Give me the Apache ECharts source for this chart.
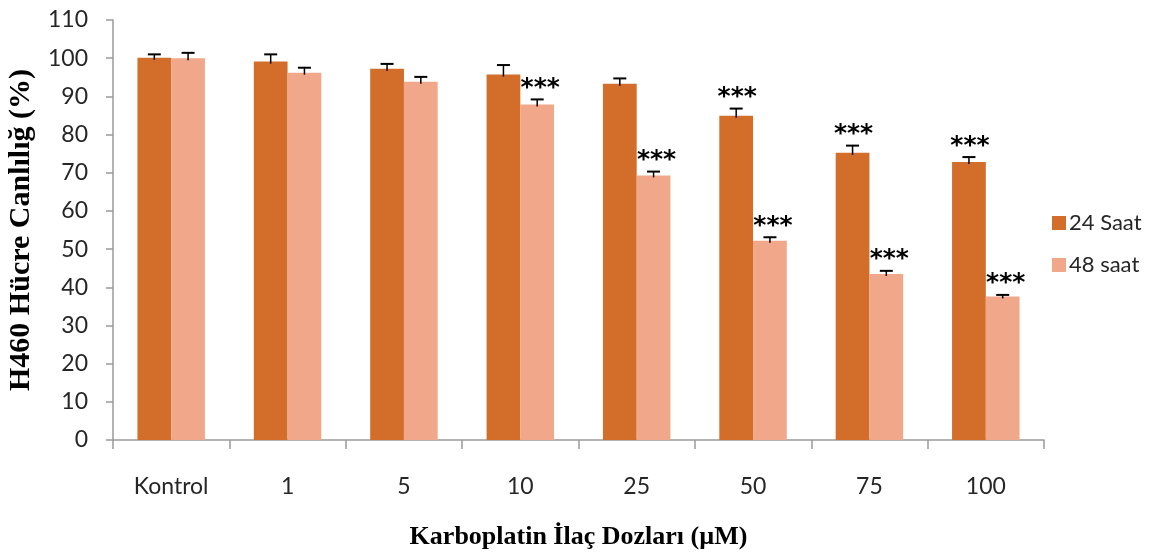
<!DOCTYPE html>
<html>
<head>
<meta charset="utf-8">
<script src="https://cdn.jsdelivr.net/npm/echarts@6/dist/echarts.min.js"></script>
<style>html,body{margin:0;padding:0;background:#fff}#c{width:1156px;height:557px}</style>
</head>
<body>
<div id="c"></div>
<script>
const categories = ['Kontrol', '1', '5', '10', '25', '50', '75', '100'];
const saat24 = [100.1, 99.1, 97.2, 95.7, 93.3, 84.9, 75.2, 72.8];
const saat48 = [100.0, 96.2, 93.8, 87.9, 69.3, 52.2, 43.5, 37.6];
const err24 = [0.9, 1.9, 1.3, 2.5, 1.4, 1.9, 1.9, 1.3];
const err48 = [1.4, 1.3, 1.3, 1.3, 1.0, 0.9, 0.8, 0.4];
const sig24 = ['', '', '', '', '', '***', '***', '***'];
const sig48 = ['', '', '', '***', '***', '***', '***', '***'];
const seriesNames = ['24 Saat', '48 saat'];
const yTicks = { min: 0, max: 110, interval: 10 };

const C24 = '#D26D2A', C48 = '#F0A78A';
const CAT_GAP = 0.42;

function errRender(side) {
  return function (params, api) {
    const i = api.value(0), v = api.value(1), e = api.value(2);
    const sig = (side < 0 ? sig24 : sig48)[params.dataIndex];
    const band = api.size([1, 0])[0];
    const bw = band * (1 - CAT_GAP) / 2;
    const base = api.coord([i, v]);
    const x = base[0] + side * bw / 2;
    const top = api.coord([i, v + e])[1];
    const y0 = base[1];
    const children = [
      { type: 'line', shape: { x1: x, y1: y0 + 2, x2: x, y2: top }, style: { stroke: '#000', lineWidth: 1.5 } },
      { type: 'line', shape: { x1: x - 6.5, y1: top, x2: x + 6.5, y2: top }, style: { stroke: '#000', lineWidth: 2 } }
    ];
    if (sig) {
      children.push({ type: 'text', style: { text: sig, x: x + (side > 0 ? 3 : 1), y: top - 11, align: 'center', verticalAlign: 'middle',
        font: 'bold 25px "DejaVu Sans"', fill: '#000' } });
    }
    return { type: 'group', children };
  };
}

const chart = echarts.init(document.getElementById('c'), null, { renderer: 'canvas' });
chart.setOption({
  animation: false,
  backgroundColor: '#fff',
  grid: { left: 113, right: 112, top: 20, bottom: 117, containLabel: false, outerBoundsMode: 'none' },
  legend: {
    data: seriesNames, orient: 'vertical', left: 1047, top: 207,
    itemWidth: 14, itemHeight: 14, itemGap: 20, icon: 'rect',
    textStyle: { fontFamily: 'Lato', fontSize: 22, color: '#262626', padding: [0, 0, 0, -2] }
  },
  xAxis: {
    type: 'category', data: categories,
    axisLine: { lineStyle: { color: '#9a9a9a', width: 1.5 } },
    axisTick: { show: true, length: 9, lineStyle: { color: '#9a9a9a', width: 1.5 } },
    axisLabel: { margin: 35, fontFamily: 'Lato', fontSize: 23, color: '#262626' },
    name: 'Karboplatin İlaç Dozları (µM)', nameLocation: 'middle', nameGap: 84,
    nameTextStyle: { fontFamily: '"Liberation Serif"', fontWeight: 'bold', fontSize: 26, color: '#000' }
  },
  yAxis: {
    type: 'value', min: yTicks.min, max: yTicks.max, interval: yTicks.interval,
    axisLine: { show: true, lineStyle: { color: '#9a9a9a', width: 1.5 } },
    axisTick: { show: true, length: 7, lineStyle: { color: '#9a9a9a', width: 1.5 } },
    splitLine: { show: false },
    axisLabel: { margin: 25, fontFamily: 'Lato', fontSize: 23, color: '#262626' },
    name: 'H460 Hücre Canlılığ (%)', nameLocation: 'middle', nameGap: 77, nameRotate: 90,
    nameTextStyle: { fontFamily: '"Liberation Serif"', fontWeight: 'bold', fontSize: 30, color: '#000' }
  },
  series: [
    { name: seriesNames[0], type: 'bar', data: saat24, barGap: '0%', barCategoryGap: (CAT_GAP * 100) + '%',
      itemStyle: { color: C24 } },
    { name: seriesNames[1], type: 'bar', data: saat48, barGap: '0%', barCategoryGap: (CAT_GAP * 100) + '%',
      itemStyle: { color: C48 } },
    { name: 'err24', type: 'custom', renderItem: errRender(-1), z: 5,
      encode: { x: 0, y: 1 }, data: categories.map((c, i) => [i, saat24[i], err24[i]]) },
    { name: 'err48', type: 'custom', renderItem: errRender(1), z: 5,
      encode: { x: 0, y: 1 }, data: categories.map((c, i) => [i, saat48[i], err48[i]]) }
  ]
});
</script>
</body>
</html>
